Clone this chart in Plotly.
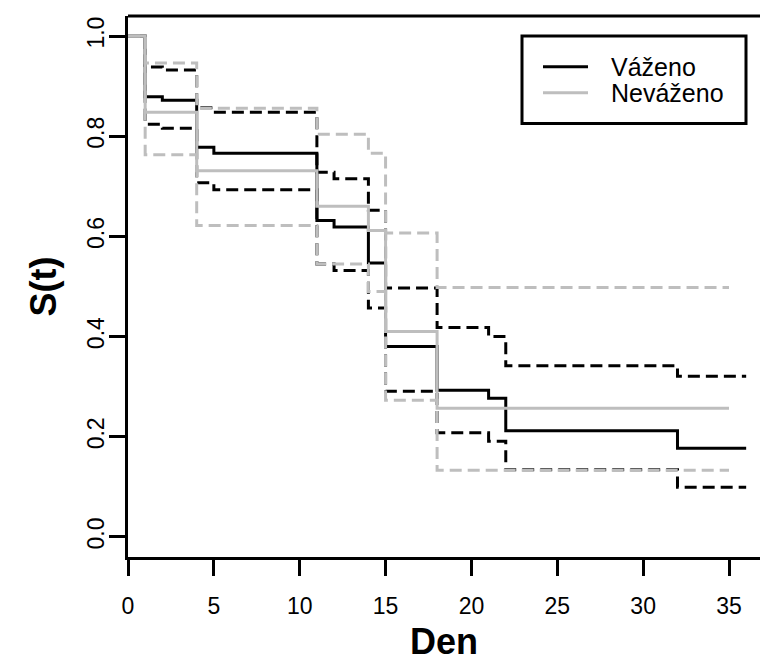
import plotly.graph_objects as go

# Kaplan-Meier estimates with 95% confidence bounds, weighted vs. unweighted
days_w = [0, 1, 2, 4, 5, 11, 12, 14, 15, 18, 21, 22, 32, 36]
surv_w = [1.0, 0.879, 0.872, 0.778, 0.766, 0.632, 0.619, 0.547, 0.380, 0.293, 0.277, 0.212, 0.177, 0.177]
upper_w = [1.0, 0.938, 0.932, 0.857, 0.848, 0.728, 0.715, 0.652, 0.497, 0.418, 0.400, 0.342, 0.321, 0.321]
lower_w = [1.0, 0.824, 0.816, 0.707, 0.693, 0.545, 0.532, 0.457, 0.291, 0.208, 0.191, 0.134, 0.099, 0.099]

days_u = [0, 1, 4, 11, 14, 15, 18, 35]
surv_u = [1.0, 0.848, 0.731, 0.660, 0.612, 0.410, 0.257, 0.257]
upper_u = [1.0, 0.946, 0.856, 0.804, 0.766, 0.607, 0.498, 0.498]
lower_u = [1.0, 0.763, 0.622, 0.545, 0.490, 0.273, 0.133, 0.133]

x_ticks = [0, 5, 10, 15, 20, 25, 30, 35]
y_ticks = [0.0, 0.2, 0.4, 0.6, 0.8, 1.0]

series_names = ["Váženo", "Neváženo"]
series_colors = ["#000000", "#bebebe"]

FONT = "Liberation Sans, Arial, Helvetica, sans-serif"
LW = 3
DASH = "12px,6px"

fig = go.Figure()


def step(x, y, color, dash=None):
    fig.add_trace(go.Scatter(
        x=x, y=y, mode="lines", line_shape="hv", showlegend=False,
        hoverinfo="skip", line=dict(color=color, width=LW, dash=dash),
    ))


for days, s, up, lo, col in [
    (days_w, surv_w, upper_w, lower_w, series_colors[0]),
    (days_u, surv_u, upper_u, lower_u, series_colors[1]),
]:
    step(days, s, col)
    step(days, up, col, DASH)
    step(days, lo, col, DASH)

W, H = 760, 662
ML, MR, MT, MB = 128, 0, 16, 103
pw, ph = W - ML - MR, H - MT - MB


def px_x(p):
    return (p - ML) / pw


def px_y(p):
    return (H - MB - p) / ph


shapes = [
    # top border of the plotting frame
    dict(type="line", xref="paper", yref="paper", x0=0, x1=1, y0=1, y1=1,
         line=dict(color="black", width=3)),
    # legend frame
    dict(type="rect", xref="paper", yref="paper",
         x0=px_x(522), x1=px_x(746), y0=px_y(124), y1=px_y(36),
         line=dict(color="black", width=3), fillcolor="white"),
]
annotations = []
for i, (name, col) in enumerate(zip(series_names, series_colors)):
    yy = 67 + 26 * i
    shapes.append(dict(type="line", xref="paper", yref="paper",
                       x0=px_x(543), x1=px_x(588), y0=px_y(yy), y1=px_y(yy),
                       line=dict(color=col, width=LW)))
    annotations.append(dict(text=name, xref="paper", yref="paper",
                            x=px_x(609), y=px_y(yy), xanchor="left", yanchor="middle",
                            showarrow=False, font=dict(size=25)))

fig.update_layout(
    width=W, height=H,
    margin=dict(l=ML, r=MR, t=MT, b=MB, pad=0),
    paper_bgcolor="white", plot_bgcolor="white",
    font=dict(family=FONT, color="black", size=23),
    showlegend=False,
    xaxis=dict(
        range=[0, pw / (601 / 35)], tickvals=x_ticks, showgrid=False, zeroline=False,
        showline=True, linecolor="black", linewidth=3,
        ticks="outside", ticklen=16, tickwidth=3, tickcolor="black",
        ticklabelstandoff=10, tickfont=dict(size=23),
        title=dict(text="<b>Den</b>", font=dict(size=36), standoff=18),
    ),
    yaxis=dict(
        range=[-0.04, 1.04], tickvals=y_ticks, tickformat=".1f", showgrid=False,
        zeroline=False, showline=True, linecolor="black", linewidth=3,
        ticks="outside", ticklen=16, tickwidth=3, tickcolor="black",
        tickangle=-90, ticklabelstandoff=-4, tickfont=dict(size=23),
        title=dict(text="<b>S(t)</b>", font=dict(size=36), standoff=16),
    ),
    shapes=shapes,
    annotations=annotations,
)

fig.write_html("out.html")
